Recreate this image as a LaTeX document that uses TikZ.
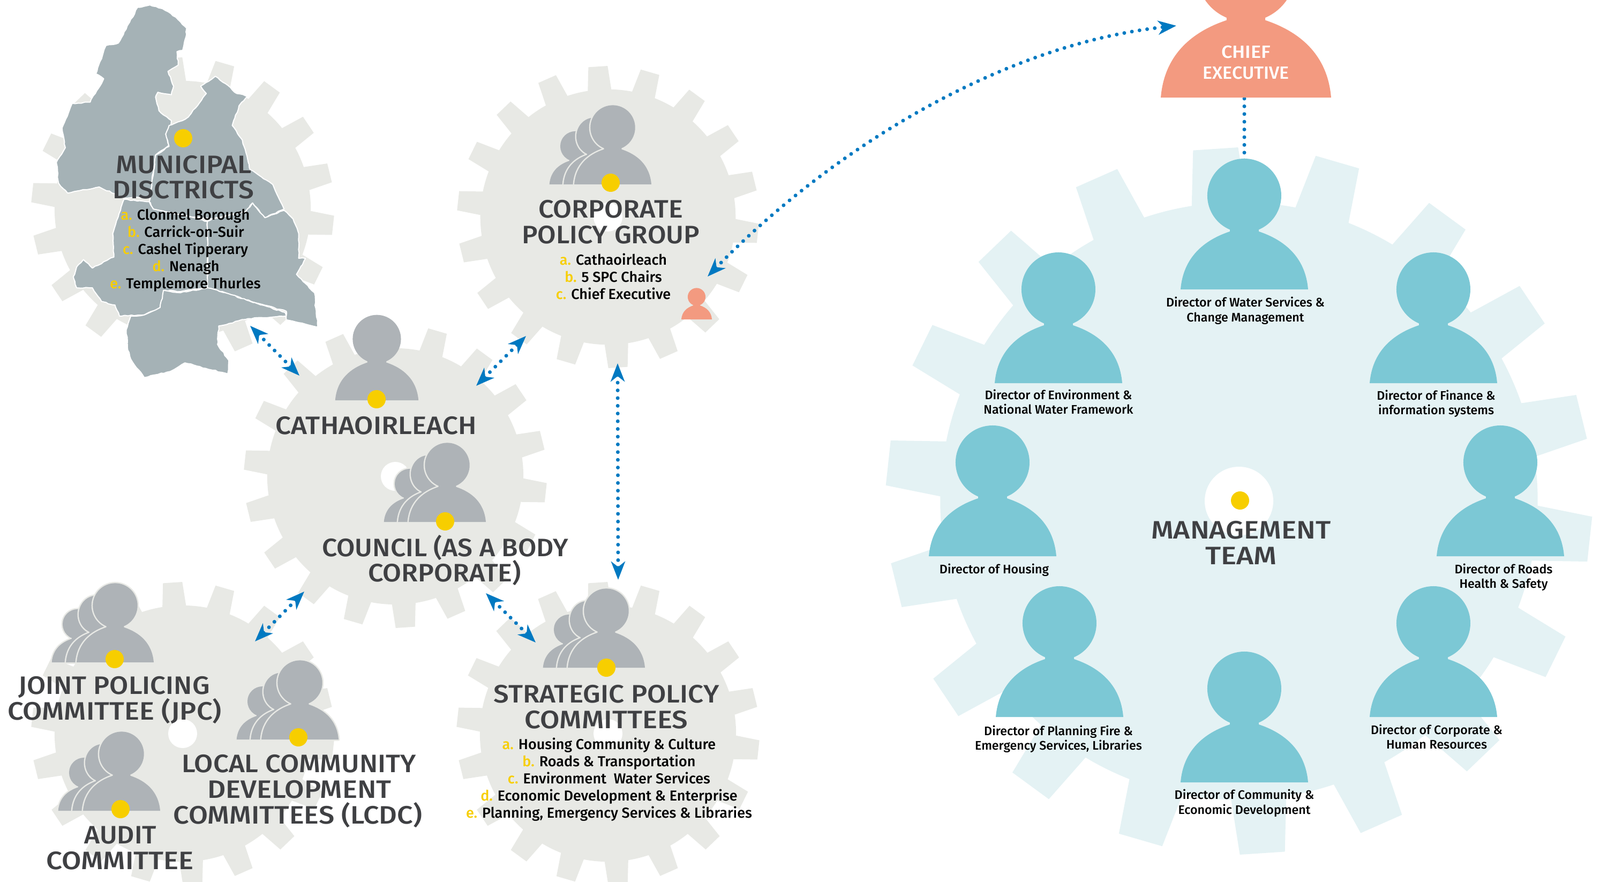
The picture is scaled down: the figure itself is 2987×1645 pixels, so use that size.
\documentclass[tikz,border=0pt]{standalone}
\usepackage{fontspec}
\setmainfont{Fira Sans}
\newfontfamily\ttl{Fira Sans Medium}
\newfontfamily\lsf{Fira Sans Medium}
\newfontfamily\chf{Fira Sans Medium}
\usetikzlibrary{arrows.meta,decorations.pathmorphing}
\definecolor{gearc}{HTML}{E8E9E5}
\definecolor{mgearc}{HTML}{E4F2F4}
\definecolor{teal}{HTML}{7CC8D5}
\definecolor{salmon}{HTML}{F39A80}
\definecolor{crowdc}{HTML}{AEB3B7}
\definecolor{mapc}{HTML}{A5B2B6}
\definecolor{linkc}{HTML}{0079C1}
\definecolor{yel}{HTML}{F7CE00}
\definecolor{ink}{HTML}{3F4043}
\tikzset{
  dotlink/.style={draw=linkc,line width=3.5pt,line cap=round,dash pattern=on 0pt off 7.2pt},
  twoway/.style={dotlink,{Stealth[length=17pt,width=13pt,inset=5pt,fill=linkc]}-{Stealth[length=17pt,width=13pt,inset=5pt,fill=linkc]}},
  titletext/.style={font=\ttl\fontsize{23.5}{26}\selectfont,text=ink,inner sep=0pt,anchor=base},
  chieftext/.style={font=\chf\fontsize{16.5}{20}\selectfont,text=white,inner sep=0pt,anchor=base},
  listtext/.style={font=\lsf\fontsize{13.5}{16}\selectfont,text=black,inner sep=0pt,anchor=base},
  dirtext/.style={font=\lsf\fontsize{11.6}{14}\selectfont,text=black,inner sep=0pt,anchor=base},
  dot/.style={fill=yel},
  region/.style={fill=mapc,draw=white,line width=1pt,line join=round,decorate,decoration={random steps,segment length=3pt,amplitude=.5pt}}
}
\newcommand\gearshape[5]{%
  \begin{scope}[shift={(#1,#2)}]
    \fill[#5] (0,0) circle[radius=#3*0.845];
    \foreach \k in {0,...,17}{%
      \pgfmathsetmacro\tc{6.2+20*\k}\pgfmathsetmacro\Ro{#3}\pgfmathsetmacro\Ri{#3*0.83}%
      \fill[#5] ({\tc-5.5}:\Ri) -- ({\tc-3.66}:\Ro) -- ({\tc+3.66}:\Ro) -- ({\tc+5.5}:\Ri) -- cycle;}
    \fill[white] (0,0) circle[radius=#4];
  \end{scope}}
\newcommand\personpath{(-119,0) .. controls (-114,-60) and (-75,-92) .. (-27,-108) -- (-27,-111.5) arc[start angle=113,end angle=427,radius=69] -- (27,-108) .. controls (75,-92) and (114,-60) .. (119,0) -- cycle}
\newcommand\solo[4]{\fill[#4,shift={(#1,#2)},scale=#3] \personpath;}
\newcommand\oneofcrowd[6]{%
  \begin{scope}[shift={(#1+#3,#2)},xscale=#4,yscale=#5]
    \draw[#6,line width=2.5pt,line join=round] \personpath;
    \fill[crowdc] \personpath;
  \end{scope}}
\newcommand\crowd[3]{%
  \oneofcrowd{#1}{#2}{-70}{0.406}{0.406}{#3}%
  \oneofcrowd{#1}{#2}{-35}{0.478}{0.51}{#3}%
  \oneofcrowd{#1}{#2}{0}{0.605}{0.605}{#3}}
\newcommand\ydot[2]{\fill[dot] (#1,#2) circle[radius=17];}
\newcommand\tline[5]{\node[titletext] (#1) at (#2,#3+17) {\scalebox{#5}[1]{#4}};}
\newcommand\chline[5]{\node[chieftext] (#1) at (#2,#3+11.5) {\scalebox{#5}[1]{#4}};}
\newcommand\lline[5]{\node[listtext] (#1) at (#2,#3+9.5) {\textcolor{yel}{#4} #5};}
\newcommand\dline[4]{\node[dirtext] (#1) at (#2,#3+8) {#4};}
\begin{document}
\begin{tikzpicture}[x=0.5pt,y=-0.5pt]
\useasboundingbox (0,0) rectangle (2987,1645);
% gears
\gearshape{341}{390}{283}{27}{gearc}
\gearshape{1135}{405}{282}{27}{gearc}
\gearshape{738}{889}{283}{27}{gearc}
\gearshape{1135}{1369}{283}{27}{gearc}
\gearshape{341}{1369}{283}{27}{gearc}
\gearshape{2313}{935}{660}{64}{mgearc}
% map
\begin{scope}[xscale=0.4209,yscale=0.4591]
\path[region] (610,30) -- (665,20) -- (720,35) -- (780,70) -- (828,115) -- (825,150) -- (810,205) -- (785,210) -- (790,265) -- (745,290) -- (770,350) -- (760,385) -- (700,375) -- (690,395) -- (705,450) -- (760,490) -- (755,515) -- (735,545) -- (750,590) -- (690,630) -- (680,700) -- (665,800) -- (550,805) -- (440,760) -- (300,785) -- (260,745) -- (250,660) -- (290,600) -- (275,520) -- (320,420) -- (400,415) -- (460,320) -- (425,300) -- (470,185) -- (525,175) -- (575,90) -- cycle;
\path[region] (955,310) -- (1000,340) -- (1050,380) -- (1100,390) -- (1060,430) -- (1030,510) -- (1075,570) -- (1110,690) -- (1210,750) -- (1260,850) -- (1175,885) -- (1120,825) -- (1090,860) -- (940,890) -- (840,880) -- (680,850) -- (662,820) -- (680,710) -- (690,630) -- (750,595) -- (735,545) -- (750,510) -- (810,490) -- (840,470) -- (915,380) -- (890,350) -- cycle;
\path[region] (1260,855) -- (1300,890) -- (1325,950) -- (1325,1050) -- (1355,1050) -- (1315,1115) -- (1395,1190) -- (1400,1250) -- (1410,1330) -- (1270,1300) -- (1270,1265) -- (1130,1230) -- (1000,1190) -- (920,1170) -- (920,900) -- (940,890) -- (1090,860) -- (1120,825) -- (1175,885) -- cycle;
\path[region] (550,810) -- (662,820) -- (680,850) -- (840,880) -- (920,900) -- (920,1170) -- (800,1185) -- (730,1180) -- (710,1250) -- (640,1280) -- (530,1285) -- (510,1240) -- (450,1225) -- (410,1170) -- (340,1170) -- (325,1125) -- (340,1085) -- (370,1055) -- (410,1090) -- (480,1055) -- (505,1045) -- (500,950) -- (525,880) -- cycle;
\path[region] (725,1180) -- (800,1190) -- (920,1170) -- (1000,1190) -- (1130,1230) -- (1265,1270) -- (1270,1285) -- (1100,1295) -- (970,1325) -- (965,1400) -- (1015,1465) -- (1010,1520) -- (820,1475) -- (755,1510) -- (640,1535) -- (580,1460) -- (565,1410) -- (560,1340) -- (580,1285) -- (640,1280) -- (710,1250) -- cycle;
\end{scope}
% connector ends
\coordinate (mdEnd) at (467,608);
\coordinate (councilMd) at (559,701);
\coordinate (councilCorp) at (889,720);
\coordinate (corpCouncil) at (982,627);
\coordinate (councilLl) at (568,1104);
\coordinate (llCouncil) at (476,1197);
\coordinate (councilSpc) at (907,1107);
\coordinate (spcCouncil) at (1000,1199);
\coordinate (corpSpc) at (1153,678);
\coordinate (spcCorp) at (1154,1082);
\coordinate (corpChief) at (1321,516);
\coordinate (chiefCorp) at (2196,48);
\coordinate (chiefBase) at (2323,184);
\coordinate (waterTop) at (2323,300);
\draw[twoway] (mdEnd) -- (councilMd);
\draw[twoway] (councilCorp) -- (corpCouncil);
\draw[twoway] (councilLl) -- (llCouncil);
\draw[twoway] (councilSpc) -- (spcCouncil);
\draw[twoway] (corpSpc) -- (spcCorp);
\draw[twoway] (corpChief) .. controls (1530,300) and (1850,85) .. (chiefCorp);
\draw[dotlink] (chiefBase) -- (waterTop);
% chief executive
\fill[salmon,shift={(2326,182)},scale=1.336] \personpath;
\chline{chiefA}{2326}{97}{CHIEF}{1.09}
\chline{chiefB}{2326}{136}{EXECUTIVE}{1.03}
% management
\solo{2323}{540}{1}{teal}
\solo{1976}{715}{1}{teal}
\solo{2676}{715}{1}{teal}
\solo{1853}{1038}{1}{teal}
\solo{2801}{1038}{1}{teal}
\solo{1978}{1338}{1}{teal}
\solo{2676}{1338}{1}{teal}
\solo{2323}{1460}{1}{teal}
\ydot{2315}{934}
\tline{mgA}{2317}{988}{MANAGEMENT}{1.135}
\tline{mgB}{2317}{1036}{TEAM}{1.17}
\dline{waterA}{2325}{564}{Director of Water Services \&}
\dline{waterB}{2325}{592}{Change Management}
\dline{envA}{1976}{737}{Director of Environment \&}
\dline{envB}{1976}{764}{National Water Framework}
\dline{finA}{2681}{738}{Director of Finance \&}
\dline{finB}{2681}{765}{information systems}
\dline{houA}{1856}{1062}{Director of Housing}
\dline{roadA}{2807}{1062}{Director of Roads}
\dline{roadB}{2807}{1089}{Health \& Safety}
\dline{planA}{1976}{1364}{Director of Planning Fire \&}
\dline{planB}{1976}{1391}{Emergency Services, Libraries}
\dline{corpdA}{2682}{1362}{Director of Corporate \&}
\dline{corpdB}{2682}{1389}{Human Resources}
\dline{comA}{2323}{1483}{Director of Community \&}
\dline{comB}{2323}{1511}{Economic Development}
% municipal districts
\ydot{342}{258}
\tline{mdA}{343}{306}{MUNICIPAL}{1.105}
\tline{mdB}{342}{353}{DISCTRICTS}{1.095}
\lline{mdL1}{346}{401}{a.}{Clonmel Borough}
\lline{mdL2}{347}{433}{b.}{Carrick-on-Suir}
\lline{mdL3}{346}{465}{c.}{Cashel Tipperary}
\lline{mdL4}{347}{497}{d.}{Nenagh}
\lline{mdL5}{346}{529}{e.}{Templemore Thurles}
% corporate policy group
\crowd{1144}{344}{gearc}
\ydot{1140}{341}
\tline{cpA}{1140}{389}{CORPORATE}{1.075}
\tline{cpB}{1140}{437}{POLICY GROUP}{1.065}
\lline{cpL1}{1145}{485}{a.}{Cathaoirleach}
\lline{cpL2}{1145}{517}{b.}{5 SPC Chairs}
\lline{cpL3}{1145}{549}{c.}{Chief Executive}
\solo{1300.5}{596}{0.24}{salmon}
% council
\solo{703.5}{747}{0.653}{crowdc}
\ydot{703}{745}
\tline{cathA}{702}{793}{CATHAOIRLEACH}{1.09}
\crowd{835}{974}{gearc}
\ydot{831}{973}
\tline{cnA}{831}{1021}{COUNCIL (AS A BODY}{1.06}
\tline{cnB}{830}{1068}{CORPORATE)}{1.075}
% strategic policy committees
\crowd{1132}{1246}{gearc}
\ydot{1132}{1246}
\tline{spA}{1132}{1294}{STRATEGIC POLICY}{1.09}
\tline{spB}{1132}{1342}{COMMITTEES}{1.125}
\lline{spL1}{1137}{1389}{a.}{Housing Community \& Culture}
\lline{spL2}{1137}{1421}{b.}{Roads \& Transportation}
\lline{spL3}{1137}{1453}{c.}{Environment\ \ Water Services}
\lline{spL4}{1137}{1485}{d.}{Economic Development \& Enterprise}
\lline{spL5}{1137}{1517}{e.}{Planning, Emergency Services \& Libraries}
% lower left
\crowd{215}{1236}{gearc}
\ydot{214}{1230}
\tline{jpA}{213}{1278}{JOINT POLICING}{1.085}
\tline{jpB}{214}{1326}{COMMITTEE (JPC)}{1.12}
\crowd{560}{1380}{gearc}
\ydot{557}{1376}
\tline{lcA}{558}{1424}{LOCAL COMMUNITY}{1.085}
\tline{lcB}{559}{1472}{DEVELOPMENT}{1.125}
\tline{lcC}{556}{1520}{COMMITTEES (LCDC)}{1.11}
\crowd{227}{1513}{gearc}
\ydot{225}{1510}
\tline{auA}{225}{1557}{AUDIT}{1.06}
\tline{auB}{224}{1605}{COMMITTEE}{1.125}
\end{tikzpicture}
\end{document}
